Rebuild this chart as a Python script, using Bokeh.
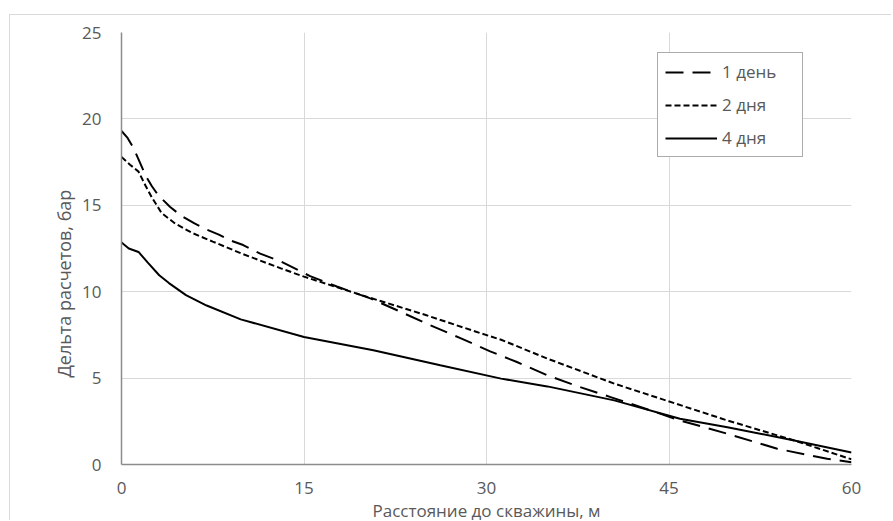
from bokeh.plotting import figure
from bokeh.models import Legend, LegendItem, Title, FixedTicker, Range1d
from bokeh.embed import file_html
from bokeh.resources import INLINE

# ---- data ----
x_1day = [0, 0.5, 1.0, 1.5, 2.0, 2.5, 3.0, 4.0, 5.0, 6.0, 7.0, 8.0, 9.0, 10.0, 11.4, 13.1,
          15.5, 17.7, 20.5, 22.9, 25.4, 27.9, 30.3, 32.5, 35.0, 37.7, 40.2, 42.7, 45.9,
          49.8, 53.9, 58.0, 60.0]
y_1day = [19.3, 18.9, 18.3, 17.5, 16.7, 16.1, 15.6, 14.9, 14.35, 13.95, 13.6, 13.3, 12.95,
          12.7, 12.2, 11.75, 10.9, 10.3, 9.6, 8.85, 8.05, 7.3, 6.55, 5.93, 5.16, 4.48, 3.9,
          3.32, 2.55, 1.78, 0.91, 0.33, 0.13]

x_2days = [0, 0.7, 1.4, 2.0, 2.5, 3.3, 4.4, 5.8, 7.5, 9.9, 13.1, 15.0, 20.2, 25.0, 29.5,
           31.2, 35.0, 40.5, 44.3, 49.8, 55.3, 60.0]
y_2days = [17.8, 17.35, 16.95, 16.1, 15.45, 14.55, 13.95, 13.4, 12.9, 12.2, 11.35, 10.87,
           9.7, 8.65, 7.6, 7.22, 6.13, 4.68, 3.81, 2.55, 1.39, 0.3]

x_4days = [0, 0.6, 1.4, 2.2, 3.1, 3.9, 5.3, 7.0, 9.8, 15.0, 20.7, 26.2, 31.2, 35.0, 40.5,
           45.9, 49.8, 55.3, 60.0]
y_4days = [12.85, 12.5, 12.3, 11.65, 10.95, 10.5, 9.8, 9.2, 8.4, 7.38, 6.61, 5.74, 4.97,
           4.52, 3.71, 2.65, 2.16, 1.39, 0.7]

series_names = ["1 день", "2 дня", "4 дня"]
x_ticks = [0, 15, 30, 45, 60]
y_ticks = [0, 5, 10, 15, 20, 25]
x_title = "Расстояние до скважины, м"
y_title = "Дельта расчетов, бар"

FONT = "Open Sans"
TXT = "#595959"
GRID = "#d9d9d9"

p = figure(width=882, height=506, output_backend="svg", toolbar_location=None,
           x_range=Range1d(0, 60), y_range=Range1d(0, 25),
           min_border_left=111, min_border_right=41, min_border_top=17, min_border_bottom=57)
# outer chart-area border: only its top and left edges are inside the picture
p.margin = (14, 0, 0, 9)
p.styles = {"border-top": "1px solid #d9d9d9", "border-left": "1px solid #d9d9d9"}
p.outline_line_color = None
p.background_fill_color = "white"
p.border_fill_color = "white"

for ax in (p.xaxis[0], p.yaxis[0]):
    ax.major_tick_line_color = None
    ax.minor_tick_line_color = None
    ax.axis_line_color = "#8c8c8c"
    ax.axis_line_width = 1.5
    ax.major_label_text_font = FONT
    ax.major_label_text_font_size = "17px"
    ax.major_label_text_color = TXT

p.xaxis.ticker = FixedTicker(ticks=x_ticks)
p.yaxis.ticker = FixedTicker(ticks=y_ticks)
p.xaxis.major_label_standoff = 11
p.yaxis.major_label_standoff = 14

p.xgrid.grid_line_color = GRID
p.ygrid.grid_line_color = GRID
p.xgrid.ticker = FixedTicker(ticks=x_ticks)
p.ygrid.ticker = FixedTicker(ticks=y_ticks)

r1 = p.line(x_1day, y_1day, line_color="black", line_width=2, line_dash="18 9")
r2 = p.line(x_2days, y_2days, line_color="black", line_width=2, line_dash="6 3")
r3 = p.line(x_4days, y_4days, line_color="black", line_width=2)

legend = Legend(items=[LegendItem(label=series_names[0], renderers=[r1]),
                       LegendItem(label=series_names[1], renderers=[r2]),
                       LegendItem(label=series_names[2], renderers=[r3])],
                location=(536, 307))
legend.label_text_font = FONT
legend.label_text_font_size = "17px"
legend.label_text_color = TXT
legend.glyph_width = 52
legend.glyph_height = 20
legend.label_height = 20
legend.label_width = 73
legend.label_standoff = 5
legend.spacing = 10
legend.padding = 7
legend.margin = 0
legend.border_line_color = "#595959"
legend.border_line_width = 1
legend.background_fill_alpha = 1
p.add_layout(legend)

xt = Title(text=x_title, align="center", text_font=FONT, text_font_size="17px",
           text_font_style="normal", text_color=TXT, standoff=0)
p.add_layout(xt, "below")

yt = Title(text=y_title, align="left", offset=87, text_font=FONT, text_font_size="18px",
           text_font_style="normal", text_color=TXT, standoff=8)
p.add_layout(yt, "left")

open("out.html", "w").write(file_html(p, INLINE))
